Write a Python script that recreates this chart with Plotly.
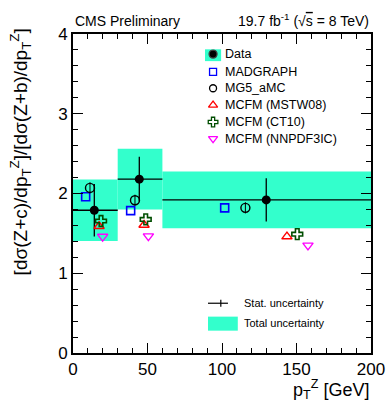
import plotly.graph_objects as go

# ---- data ----
bin_lo = [0, 30, 60]
bin_hi = [30, 60, 200]
data_x = [14.3, 44.5, 129.7]
data_y = [1.79, 2.18, 1.92]
stat_err = [0.33, 0.28, 0.27]
tot_err = [0.385, 0.38, 0.355]

madgraph_x = [8.5, 38.7, 101.8]
madgraph_y = [1.96, 1.785, 1.82]
mg5_x = [11.4, 41.6, 115.7]
mg5_y = [2.07, 1.915, 1.82]
mg5_err = [0.07, 0.07, 0.07]
mstw_x = [17.5, 47.7, 143.6]
mstw_y = [1.59, 1.605, 1.46]
ct10_x = [18.8, 48.8, 150.5]
ct10_y = [1.655, 1.675, 1.49]
nnpdf_x = [19.9, 50.6, 157.7]
nnpdf_y = [1.46, 1.465, 1.35]

legend_names = ["Data", "MADGRAPH", "MG5_aMC", "MCFM (MSTW08)", "MCFM (CT10)", "MCFM (NNPDF3IC)"]

CYAN = "#33ffcc"
FONT = "Liberation Sans, Arial, sans-serif"

fig = go.Figure()

# total uncertainty bands
for lo, hi, y, e in zip(bin_lo, bin_hi, data_y, tot_err):
    fig.add_trace(go.Scatter(x=[lo, hi, hi, lo, lo], y=[y - e, y - e, y + e, y + e, y - e],
                             fill="toself", fillcolor=CYAN, mode="none", showlegend=False,
                             hoverinfo="skip"))

# data with stat errors and bin-width horizontal lines
fig.add_trace(go.Scatter(
    x=data_x, y=data_y, mode="markers",
    marker=dict(symbol="circle", size=9, color="black"),
    error_y=dict(type="data", array=stat_err, color="black", thickness=1.3, width=0),
    error_x=dict(type="data", symmetric=False,
                 array=[h - x for h, x in zip(bin_hi, data_x)],
                 arrayminus=[x - l for l, x in zip(bin_lo, data_x)],
                 color="black", thickness=1.3, width=0),
    showlegend=False))

fig.add_trace(go.Scatter(x=madgraph_x, y=madgraph_y, mode="markers",
                         marker=dict(symbol="square-open", size=8, color="#0000ff",
                                     line=dict(width=1.6)), showlegend=False))
fig.add_trace(go.Scatter(x=mg5_x, y=mg5_y, mode="markers",
                         marker=dict(symbol="circle-open", size=9, color="black",
                                     line=dict(width=1.4)),
                         error_y=dict(type="data", array=mg5_err, color="black", thickness=1, width=0),
                         showlegend=False))
fig.add_trace(go.Scatter(x=mstw_x, y=mstw_y, mode="markers",
                         marker=dict(symbol="triangle-up-open", size=9, color="#ff0000",
                                     line=dict(width=1.4)), showlegend=False))
fig.add_trace(go.Scatter(x=ct10_x, y=ct10_y, mode="markers",
                         marker=dict(symbol="cross-open", size=9, color="#004d00",
                                     line=dict(width=1.6)), showlegend=False))
fig.add_trace(go.Scatter(x=nnpdf_x, y=nnpdf_y, mode="markers",
                         marker=dict(symbol="triangle-down-open", size=9, color="#ff00ff",
                                     line=dict(width=1.4)), showlegend=False))

# ---- manual legend (overlay axes in [0,1]) ----
leg_y = [0.937, 0.881, 0.830, 0.777, 0.724, 0.672]
leg_x = 0.47
sym = [("circle", "black", 8), ("square-open", "#0000ff", 7), ("circle-open", "black", 7),
       ("triangle-up-open", "#ff0000", 8), ("cross-open", "#004d00", 8),
       ("triangle-down-open", "#ff00ff", 8)]
fig.add_shape(type="rect", xref="paper", yref="paper", x0=0.443, x1=0.497, y0=0.915, y1=0.952,
              fillcolor=CYAN, line=dict(width=0), layer="below")
for (s, c, sz), yy, name in zip(sym, leg_y, legend_names):
    fig.add_trace(go.Scatter(x=[leg_x], y=[yy], xaxis="x2", yaxis="y2", mode="markers",
                             marker=dict(symbol=s, size=sz, color=c, line=dict(width=1.3)),
                             showlegend=False, hoverinfo="skip"))
    fig.add_annotation(x=0.503, y=yy, xref="paper", yref="paper", text=name, showarrow=False,
                       xanchor="left", yanchor="middle", font=dict(size=12.5, color="black", family=FONT))

# lower legend
fig.add_shape(type="line", xref="paper", yref="paper", x0=0.453, x1=0.520, y0=0.156, y1=0.156,
              line=dict(color="black", width=1.2))
fig.add_shape(type="line", xref="paper", yref="paper", x0=0.496, x1=0.496, y0=0.145, y1=0.167,
              line=dict(color="black", width=1.2))
fig.add_annotation(x=0.566, y=0.156, xref="paper", yref="paper", text="Stat. uncertainty",
                   showarrow=False, xanchor="left", yanchor="middle",
                   font=dict(size=11, color="black", family=FONT))
fig.add_shape(type="rect", xref="paper", yref="paper", x0=0.453, x1=0.553, y0=0.070, y1=0.114,
              fillcolor=CYAN, line=dict(width=0))
fig.add_annotation(x=0.566, y=0.093, xref="paper", yref="paper", text="Total uncertainty",
                   showarrow=False, xanchor="left", yanchor="middle",
                   font=dict(size=11, color="black", family=FONT))

# header texts
fig.add_annotation(x=0.0, y=1.0, xref="paper", yref="paper", text="CMS Preliminary",
                   showarrow=False, xanchor="left", yanchor="bottom", yshift=3,
                   font=dict(size=14, color="black", family=FONT))
fig.add_annotation(x=1.0, y=1.0, xref="paper", yref="paper",
                   text="19.7 fb<sup>-1</sup> (√<span style='text-decoration:overline'>s</span> = 8 TeV)",
                   showarrow=False, xanchor="right", yanchor="bottom", yshift=3,
                   font=dict(size=14, color="black", family=FONT))

# axis titles
fig.add_annotation(x=1.0, y=-0.16, xref="paper", yref="paper",
                   text="p<sub>T</sub><sup>Z</sup> [GeV]", showarrow=False,
                   xanchor="right", yanchor="bottom", font=dict(size=18, color="black", family=FONT))
fig.add_annotation(x=-0.175, y=1.025, xref="paper", yref="paper",
                   text="[dσ(Z+c)/dp<sub>T</sub><sup>Z</sup>]/[dσ(Z+b)/dp<sub>T</sub><sup>Z</sup>]",
                   showarrow=False, textangle=-90, xanchor="center", yanchor="top",
                   font=dict(size=19, color="black", family=FONT))

axis_common = dict(showgrid=False, zeroline=False, showline=True, linecolor="black", linewidth=2,
                   mirror="allticks", ticks="inside", tickcolor="black", tickwidth=1,
                   automargin=False,
                   tickfont=dict(size=17, color="black", family=FONT))
fig.update_layout(
    width=387, height=405,
    margin=dict(l=73, r=16, t=34, b=52),
    paper_bgcolor="white", plot_bgcolor="white",
    xaxis=dict(range=[0, 200], tick0=0, dtick=50, ticklen=10,
               minor=dict(dtick=10, ticklen=5, ticks="inside", tickcolor="black"),
               **axis_common),
    yaxis=dict(range=[0, 4], tick0=0, dtick=1, ticklen=10,
               minor=dict(dtick=0.2, ticklen=5, ticks="inside", tickcolor="black"),
               **axis_common),
    xaxis2=dict(range=[0, 1], overlaying="x", visible=False),
    yaxis2=dict(range=[0, 1], overlaying="y", visible=False),
    showlegend=False,
)

fig.write_html("out.html", post_script="document.body.style.margin='0';")
